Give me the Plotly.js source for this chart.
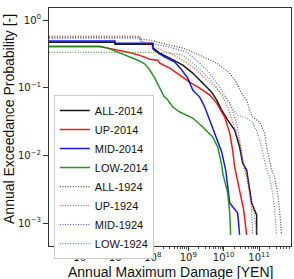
<!DOCTYPE html>
<html>
<head>
<meta charset="utf-8">
<script src="https://cdn.plot.ly/plotly-3.0.1.min.js"></script>
<style>html,body{margin:0;padding:0;background:#fff;}#chart{width:294px;height:279px;}</style>
</head>
<body>
<div id="chart"></div>
<script>
// Damage [YEN] and annual exceedance probability for each series
const all2014_x = [1e5, 8.51e6, 8.6e6, 1.0e8, 1.02e8, 1.57e8, 3.01e8, 7.00e8, 1.34e9, 2.56e9, 4.59e9, 6.35e9, 8.79e9, 1.30e10, 2.04e10, 2.82e10, 3.43e10, 4.45e10, 5.40e10, 6.15e10, 8.51e10, 8.52e10];
const all2014_y = [0.473, 0.473, 0.442, 0.442, 0.386, 0.326, 0.275, 0.216, 0.165, 0.117, 0.0863, 0.0658, 0.0469, 0.0333, 0.0237, 0.0133, 0.00772, 0.00608, 0.00279, 0.00198, 0.00132, 0.000667];

const up2014_x = [1e5, 3.21e6, 5.40e6, 1.03e7, 1.63e7, 2.56e7, 5.96e7, 8.22e7, 1.38e8, 1.57e8, 3.01e8, 5.77e8, 1.10e9, 2.11e9, 4.04e9, 6.35e9, 1.07e10, 1.48e10, 1.79e10, 2.04e10, 2.32e10, 2.82e10, 3.66e10, 4.45e10];
const up2014_y = [0.409, 0.409, 0.386, 0.36, 0.34, 0.326, 0.284, 0.265, 0.256, 0.232, 0.195, 0.154, 0.121, 0.099, 0.078, 0.0594, 0.0369, 0.0214, 0.012, 0.00674, 0.0048, 0.00279, 0.00156, 0.000667];

const mid2014_x = [1e5, 8.51e6, 8.6e6, 1.0e8, 1.02e8, 1.14e8, 1.30e8, 2.18e8, 4.17e8, 6.56e8, 9.68e8, 1.34e9, 2.11e9, 2.92e9, 4.04e9, 6.35e9, 8.79e9, 1.14e10, 1.30e10, 1.48e10, 2.48e10, 2.82e10];
const mid2014_y = [0.49, 0.49, 0.457, 0.457, 0.373, 0.36, 0.337, 0.284, 0.24, 0.183, 0.139, 0.0925, 0.0729, 0.0519, 0.0333, 0.0187, 0.0112, 0.00608, 0.00341, 0.00198, 0.00141, 0.000667];

const low2014_x = [1e5, 3.21e6, 5.40e6, 1.03e7, 1.98e7, 3.78e7, 5.96e7, 8.22e7, 1.14e8, 1.57e8, 2.04e8, 2.65e8, 3.66e8, 5.77e8, 1.34e9, 2.56e9, 4.90e9, 6.78e9, 8.79e9, 9.38e9, 1.30e10, 1.48e10, 1.57e10];
const low2014_y = [0.409, 0.409, 0.386, 0.337, 0.294, 0.256, 0.224, 0.183, 0.139, 0.099, 0.0754, 0.0658, 0.0519, 0.0438, 0.0357, 0.0263, 0.0187, 0.0133, 0.00721, 0.00549, 0.00279, 0.00141, 0.000667];

const all1924_x = [1e5, 4.31e7, 4.4e7, 8.22e7, 3.01e8, 7.00e8, 2.11e9, 6.35e9, 1.48e10, 2.32e10, 3.43e10, 4.45e10, 5.40e10, 6.56e10, 1.03e11, 1.43e11, 1.63e11, 1.98e11, 2.25e11, 2.74e11, 3.32e11, 3.78e11, 4.31e11];
const all1924_y = [0.561, 0.561, 0.524, 0.507, 0.427, 0.386, 0.304, 0.232, 0.165, 0.117, 0.078, 0.0658, 0.0469, 0.0369, 0.0311, 0.0214, 0.0133, 0.00772, 0.00608, 0.0048, 0.00279, 0.00156, 0.000667];

const up1924_x = [1e5, 4.31e7, 4.4e7, 8.22e7, 3.01e8, 7.00e8, 1.73e9, 3.32e9, 6.35e9, 8.79e9, 1.30e10, 2.04e10, 2.82e10, 3.43e10, 4.45e10, 5.40e10, 7.46e10, 8.51e10];
const up1924_y = [0.58, 0.58, 0.507, 0.42, 0.326, 0.256, 0.183, 0.13, 0.099, 0.078, 0.0519, 0.0263, 0.0152, 0.00855, 0.0055, 0.00279, 0.00132, 0.000667];

const mid1924_x = [1e5, 4.31e7, 4.4e7, 8.22e7, 3.01e8, 9.08e8, 2.11e9, 4.04e9, 7.71e9, 1.30e10, 1.48e10, 2.32e10, 2.82e10, 3.43e10, 3.91e10, 4.45e10, 5.40e10, 6.15e10, 6.56e10];
const mid1924_y = [0.542, 0.542, 0.49, 0.457, 0.399, 0.337, 0.232, 0.165, 0.102, 0.0658, 0.0594, 0.0301, 0.0169, 0.00947, 0.00608, 0.0048, 0.00279, 0.00156, 0.000667];

const low1924_x = [1e5, 2.18e8, 7.00e8, 1.34e9, 2.56e9, 4.90e9, 7.71e9, 1.22e10, 1.48e10, 2.32e10, 4.45e10, 6.56e10, 9.08e10, 1.17e11, 1.43e11, 1.63e11, 1.98e11, 2.40e11, 2.74e11, 3.11e11];
const low1924_y = [0.333, 0.333, 0.304, 0.232, 0.171, 0.121, 0.0863, 0.0658, 0.0594, 0.0395, 0.0357, 0.0311, 0.0214, 0.0133, 0.00855, 0.00608, 0.0048, 0.00279, 0.00156, 0.000667];

const seriesNames = ['ALL-2014', 'UP-2014', 'MID-2014', 'LOW-2014', 'ALL-1924', 'UP-1924', 'MID-1924', 'LOW-1924'];
const xTickVals = [1e6, 1e7, 1e8, 1e9, 1e10, 1e11];
const xTickText = ['10<sup>6</sup>', '10<sup>7</sup>', '10<sup>8</sup>', '10<sup>9</sup>', '10<sup>10</sup>', '10<sup>11</sup>'];
const yTickVals = [1, 0.1, 0.01, 0.001];
const yTickText = ['10<sup>0</sup>', '10<sup>−1</sup>', '10<sup>−2</sup>', '10<sup>−3</sup>'];
const xTitle = 'Annual Maximum Damage [YEN]';
const yTitle = 'Annual Exceedance Probability [-]';

const xs = [all2014_x, up2014_x, mid2014_x, low2014_x, all1924_x, up1924_x, mid1924_x, low1924_x];
const ys = [all2014_y, up2014_y, mid2014_y, low2014_y, all1924_y, up1924_y, mid1924_y, low1924_y];
const colors = ['#000000', '#ee0000', '#0000ee', '#118811', '#222222', '#ee3333', '#3333ee', '#229922'];

const traces = seriesNames.map((n, i) => ({
  x: xs[i], y: ys[i], name: n, type: 'scatter', mode: 'lines',
  line: {color: colors[i], width: i < 4 ? 1.5 : 1.2, dash: i < 4 ? 'solid' : '1px,1.6px'},
  opacity: i < 4 ? 0.9 : 0.8
}));

const axisCommon = {
  type: 'log', showgrid: false, zeroline: false, automargin: false,
  showline: true, linecolor: '#333', linewidth: 1, mirror: true,
  ticks: 'outside', ticklen: 4, tickcolor: '#333', tickwidth: 1,
  tickfont: {family: 'DejaVu Sans', size: 10, color: '#222'},
  minor: {ticks: 'outside', ticklen: 2, tickcolor: '#555', dtick: 'D1'}
};

const layout = {
  width: 294, height: 279,
  margin: {l: 49, r: 3, t: 8, b: 33},
  paper_bgcolor: '#fff', plot_bgcolor: '#fff',
  showlegend: true,
  legend: {
    x: 0.02, y: 0.634, xanchor: 'left', yanchor: 'top',
    bgcolor: '#fff', bordercolor: '#ccc', borderwidth: 1,
    font: {family: 'Liberation Sans', size: 11, color: '#111'},
    tracegroupgap: 0
  },
  xaxis: Object.assign({}, axisCommon, {
    range: [5.07, 11.9], tickmode: 'array', tickvals: xTickVals, ticktext: xTickText,
    ticklabelstandoff: -2
  }),
  yaxis: Object.assign({}, axisCommon, {
    range: [-3.34, 0.18], tickmode: 'array', tickvals: yTickVals, ticktext: yTickText, ticklen: 5,
    minor: {ticks: '', dtick: 'D1'}
  }),
  annotations: [
    {text: xTitle, xref: 'paper', yref: 'paper', x: 0.502, y: -0.11, xanchor: 'center', yanchor: 'middle',
     showarrow: false, font: {family: 'Liberation Sans', size: 14, color: '#111'}},
    {text: yTitle, xref: 'paper', yref: 'paper', x: -0.165, y: 0.534, xanchor: 'center', yanchor: 'middle',
     textangle: -90, showarrow: false, font: {family: 'Liberation Sans', size: 14, color: '#111'}}
  ]
};

Plotly.newPlot('chart', traces, layout, {staticPlot: true, displayModeBar: false});
</script>
</body>
</html>
